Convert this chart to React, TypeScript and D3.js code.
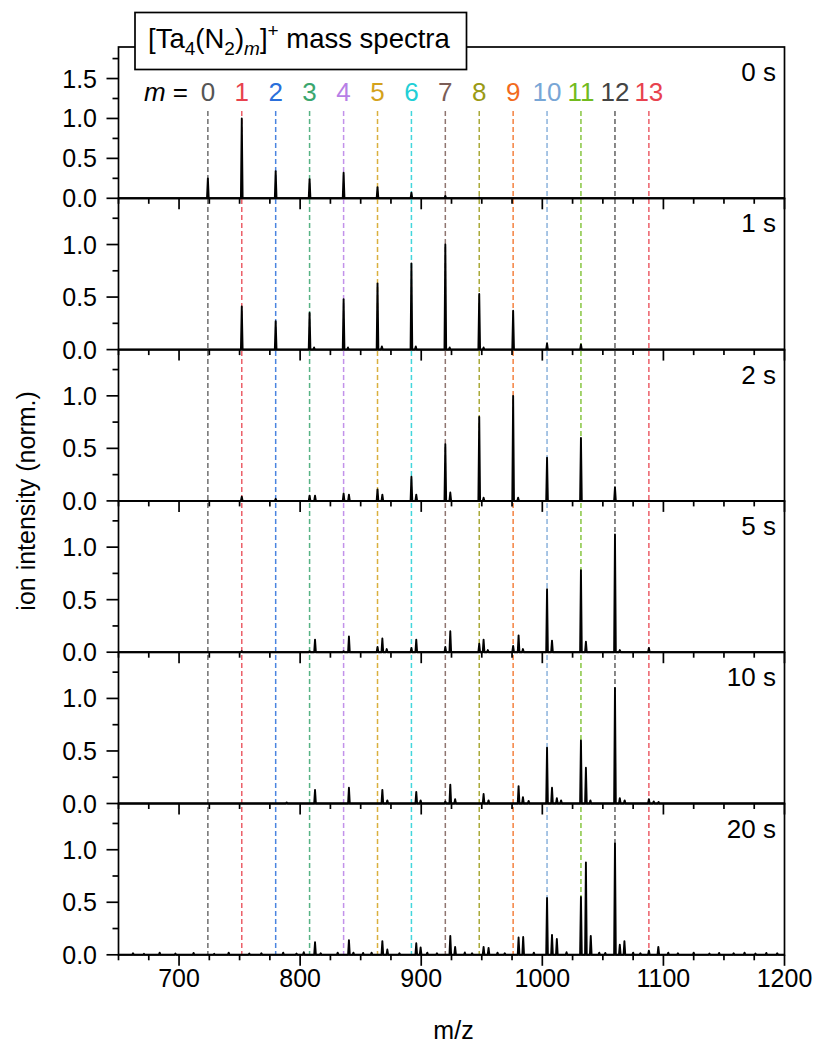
import React from "react";
import * as d3 from "d3";

// ---------- data ----------
const mValues = [0, 1, 2, 3, 4, 5, 6, 7, 8, 9, 10, 11, 12, 13];
const mzLines = [723.8, 751.8, 779.8, 807.8, 835.9, 863.9, 891.9, 919.9, 947.9, 975.9, 1003.9, 1031.9, 1060.0, 1088.0];
const mColors = ["#555555", "#e8424e", "#2a6fdb", "#3aa66e", "#b77fe6", "#d4a21c", "#22cfd6", "#7b5d57", "#9a9a15", "#f26b1d", "#78a6d6", "#72bb1e", "#444444", "#e8424e"];

const panelLabels = ["0 s", "1 s", "2 s", "5 s", "10 s", "20 s"];
const panelYMax = [1.895, 1.44, 1.44, 1.44, 1.44, 1.44];
const panelYTicks = [[0, 0.5, 1.0, 1.5], [0, 0.5, 1.0], [0, 0.5, 1.0], [0, 0.5, 1.0], [0, 0.5, 1.0], [0, 0.5, 1.0]];
const xTicks = [700, 800, 900, 1000, 1100, 1200];

const peaks0s: [number, number][] = [
  [723.8, 0.25], [751.8, 1.0], [779.8, 0.34], [807.8, 0.24], [835.9, 0.32], [863.9, 0.14], [891.9, 0.07], [919.9, 0.03], [947.9, 0.01],
];
const peaks1s: [number, number][] = [
  [751.8, 0.41], [779.8, 0.27], [807.8, 0.35], [811.5, 0.02], [835.9, 0.48], [839.5, 0.02], [863.9, 0.63], [867.5, 0.03],
  [891.9, 0.82], [895.5, 0.03], [919.9, 1.0], [923.5, 0.02], [947.9, 0.53], [951.5, 0.02], [975.9, 0.37], [1003.9, 0.06], [1031.9, 0.05],
];
const peaks2s: [number, number][] = [
  [751.8, 0.04], [779.8, 0.02], [807.8, 0.05], [812.3, 0.05], [835.9, 0.07], [840.3, 0.06], [863.9, 0.11], [867.9, 0.06],
  [891.9, 0.23], [895.9, 0.06], [919.9, 0.54], [924.0, 0.08], [947.9, 0.8], [951.5, 0.03], [975.9, 1.0], [980.0, 0.03],
  [1003.9, 0.41], [1031.9, 0.6], [1060.0, 0.13],
];
const peaks5s: [number, number][] = [
  [751.8, 0.01], [807.8, 0.01], [812.3, 0.12], [835.9, 0.01], [840.3, 0.15], [863.9, 0.05], [867.9, 0.13], [871.5, 0.03],
  [891.9, 0.04], [895.9, 0.12], [919.9, 0.05], [924.0, 0.2], [947.9, 0.08], [951.5, 0.12], [955.0, 0.02], [975.9, 0.06],
  [980.4, 0.16], [984.0, 0.03], [1003.9, 0.6], [1008.0, 0.11], [1031.9, 0.78], [1036.0, 0.1], [1060.0, 1.12], [1064.0, 0.02], [1088.0, 0.04],
];
const peaks10s: [number, number][] = [
  [788.9, 0.01], [812.3, 0.13], [840.3, 0.15], [867.9, 0.13], [872.0, 0.03], [895.9, 0.11], [899.5, 0.03], [919.9, 0.02],
  [924.0, 0.18], [928.0, 0.04], [951.5, 0.09], [955.6, 0.03], [980.4, 0.165], [984.0, 0.06], [988.7, 0.025], [1003.9, 0.53],
  [1008.0, 0.15], [1012.0, 0.05], [1015.5, 0.03], [1031.9, 0.6], [1036.0, 0.34], [1039.7, 0.03], [1060.0, 1.1], [1064.0, 0.05],
  [1068.0, 0.03], [1088.0, 0.04], [1092.0, 0.02], [1096.0, 0.015],
];
const peaks20s: [number, number][] = [
  [662, 0.015], [671, 0.01], [684, 0.02], [697, 0.012], [712, 0.018], [729, 0.01], [741, 0.02], [758, 0.012], [768, 0.015],
  [786, 0.02], [797, 0.013], [803, 0.025], [812.3, 0.12], [817, 0.015], [831, 0.02], [840.3, 0.14], [844, 0.02], [852, 0.018],
  [859, 0.02], [867.9, 0.13], [872, 0.05], [882, 0.015], [895.9, 0.11], [899.5, 0.07], [905, 0.02], [913, 0.014], [924, 0.18],
  [928, 0.075], [936, 0.022], [942, 0.015], [951.5, 0.075], [955.6, 0.065], [963, 0.02], [969, 0.015], [980.4, 0.165],
  [984.2, 0.17], [993, 0.02], [1003.9, 0.54], [1008, 0.19], [1012, 0.15], [1020, 0.025], [1031.9, 0.55], [1036, 0.88],
  [1040, 0.18], [1047, 0.02], [1052, 0.018], [1060, 1.06], [1064, 0.095], [1067.8, 0.13], [1075, 0.02], [1081, 0.015],
  [1088, 0.04], [1095.8, 0.075], [1104, 0.02], [1112, 0.015], [1125, 0.02], [1138, 0.012], [1146, 0.018], [1158, 0.015],
  [1167, 0.02], [1176, 0.012], [1185, 0.018], [1194, 0.015],
];
const panelPeaks = [peaks0s, peaks1s, peaks2s, peaks5s, peaks10s, peaks20s];

// ---------- layout ----------
const W = 819, H = 1048;
const left = 118.5, right = 784.5, top = 47, panelH = 151.3;
const font = "'Liberation Sans', Arial, Helvetica, sans-serif";

const x = d3.scaleLinear().domain([650, 1200]).range([left, right]);
const xMinor = d3.range(650, 1201, 25);

function spectrumPath(peaks: [number, number][], y: d3.ScaleLinear<number, number>) {
  const sorted = [...peaks].sort((a, b) => a[0] - b[0]);
  const pts: [number, number][] = [[650, 0]];
  sorted.forEach(([m, h]) => {
    pts.push([m - 0.7, 0], [m, h], [m + 0.7, 0]);
  });
  pts.push([1200, 0]);
  return d3.line<[number, number]>().x(d => x(d[0])).y(d => y(d[1]))(pts) || "";
}

export default function App() {
  const bottomAll = top + panelH * 6;
  return (
    <svg width={W} height={H} style={{ position: "absolute", left: 0, top: 0, background: "#fff" }} fontFamily={font}>
      {/* dashed guide lines */}
      {mzLines.map((mz, i) => (
        <line key={"d" + i} x1={x(mz)} x2={x(mz)} y1={111} y2={bottomAll} stroke={mColors[i]} strokeOpacity={0.85}
          strokeWidth={1.5} strokeDasharray="5,3" />
      ))}
      {panelLabels.map((lab, p) => {
        const y0 = top + panelH * p;
        const y1 = y0 + panelH;
        const y = d3.scaleLinear().domain([0, panelYMax[p]]).range([y1, y0]);
        const minorY = d3.range(0.25, panelYMax[p], 0.5);
        return (
          <g key={"p" + p}>
            <path d={spectrumPath(panelPeaks[p], y)} fill="none" stroke="#000" strokeWidth={1.9} strokeLinejoin="round" />
            <rect x={left} y={y0} width={right - left} height={panelH} fill="none" stroke="#000" strokeWidth={1.7} />
            {/* y ticks */}
            {panelYTicks[p].map(t => (
              <g key={"yt" + t}>
                <line x1={left - 12} x2={left} y1={y(t)} y2={y(t)} stroke="#000" strokeWidth={1.7} />
                <text x={97} y={y(t)} dy="0.36em" textAnchor="end" fontSize={25}>{t.toFixed(1)}</text>
              </g>
            ))}
            {minorY.map(t => (
              <line key={"ym" + t} x1={left - 6} x2={left} y1={y(t)} y2={y(t)} stroke="#000" strokeWidth={1.7} />
            ))}
            {/* x ticks pointing down from panel bottom */}
            {xMinor.map(t => (
              <line key={"xt" + t} x1={x(t)} x2={x(t)} y1={y1} y2={y1 + (t % 100 === 0 ? 11 : 5.5)} stroke="#000" strokeWidth={1.7} />
            ))}
            <text x={776} y={y0 + 34} textAnchor="end" fontSize={26}>{lab}</text>
          </g>
        );
      })}
      {/* x tick labels */}
      {xTicks.map(t => (
        <text key={"xl" + t} x={x(t)} y={987} textAnchor="middle" fontSize={25}>{t}</text>
      ))}
      <text x={(left + right) / 2 + 2} y={1039} textAnchor="middle" fontSize={25}>m/z</text>
      <text transform={`translate(35, ${(top + bottomAll) / 2}) rotate(-90)`} textAnchor="middle" fontSize={25}>ion intensity (norm.)</text>
      {/* m labels */}
      <text x={188} y={101} textAnchor="end" fontSize={26}>
        <tspan fontStyle="italic">m</tspan> =
      </text>
      {mValues.map((m, i) => (
        <text key={"ml" + m} x={x(mzLines[i])} y={101} textAnchor="middle" fontSize={26} fill={mColors[i]}>{m}</text>
      ))}
      {/* title box */}
      <rect x={135} y={12.5} width={331.5} height={57} fill="#fff" stroke="#000" strokeWidth={1.7} />
      <text x={148} y={48} fontSize={27.5}>
        [Ta<tspan fontSize={19} dy={7}>4</tspan><tspan dy={-7}>(N</tspan><tspan fontSize={19} dy={7}>2</tspan>
        <tspan dy={-7}>)</tspan><tspan fontSize={19} dy={7} fontStyle="italic">m</tspan><tspan dy={-7}>]</tspan>
        <tspan fontSize={19} dy={-11}>+</tspan><tspan dy={11}> mass spectra</tspan>
      </text>
    </svg>
  );
}
